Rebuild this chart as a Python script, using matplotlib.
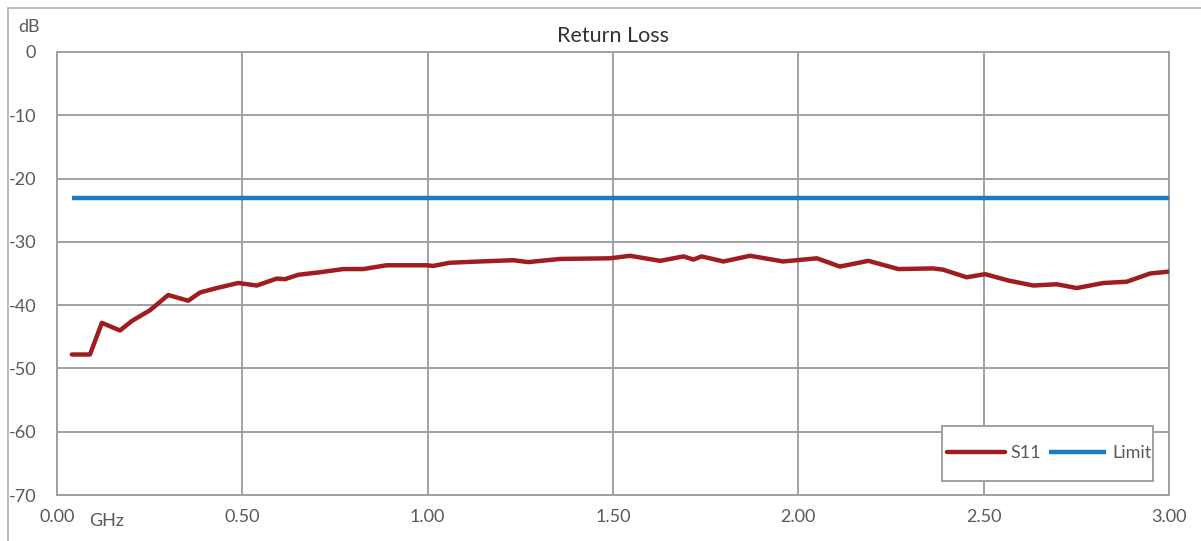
import numpy as np
import matplotlib
matplotlib.use('Agg')
import matplotlib.pyplot as plt
from matplotlib.patches import Rectangle

plt.rcParams['font.family'] = ['Lato', 'DejaVu Sans']

# S11 return loss (GHz, dB)
freq_ghz = [0.040, 0.089, 0.121, 0.170, 0.202, 0.251, 0.300, 0.354, 0.386, 0.431,
            0.489, 0.539, 0.593, 0.615, 0.651, 0.710, 0.772, 0.826, 0.889, 0.997,
            1.015, 1.060, 1.141, 1.231, 1.271, 1.357, 1.492, 1.546, 1.627, 1.690,
            1.717, 1.739, 1.798, 1.870, 1.959, 2.050, 2.112, 2.189, 2.270, 2.364,
            2.391, 2.454, 2.504, 2.566, 2.634, 2.697, 2.751, 2.823, 2.886, 2.949,
            3.000]
s11_db = [-47.8, -47.8, -42.8, -44.0, -42.5, -40.8, -38.4, -39.3, -38.0, -37.3,
          -36.5, -36.9, -35.8, -35.9, -35.2, -34.8, -34.3, -34.3, -33.7, -33.7,
          -33.8, -33.3, -33.1, -32.9, -33.2, -32.7, -32.6, -32.2, -33.0, -32.3,
          -32.8, -32.3, -33.1, -32.2, -33.1, -32.6, -33.9, -33.0, -34.3, -34.2,
          -34.4, -35.6, -35.1, -36.1, -36.9, -36.7, -37.3, -36.5, -36.3, -35.0,
          -34.7]

limit_freq = [0.040, 3.000]
limit_db = [-23.0, -23.0]

x_ticks = [0.0, 0.5, 1.0, 1.5, 2.0, 2.5, 3.0]
y_ticks = [0, -10, -20, -30, -40, -50, -60, -70]

grid_col = '#a0a0a4'
text_col = '#595959'
W, H = 1201, 541

fig = plt.figure(figsize=(12.01, 5.41), dpi=100)
ax = fig.add_axes([57/W, 1 - 495/H, 1112/W, 443/H])

# outer chart border (only top/left visible in the original)
fig.patches.append(Rectangle((8/W, -0.1), 1.2, 1 - 8/H + 0.1,
                             transform=fig.transFigure, fill=False,
                             edgecolor='#b0b0b0', linewidth=1.2))

ax.plot(freq_ghz, s11_db, color='#a01c21', lw=3.2, solid_joinstyle='round',
        solid_capstyle='round', label='S11', zorder=3)
ax.plot(limit_freq, limit_db, color='#1a7bc0', lw=3.2, solid_capstyle='butt',
        label='Limit', zorder=3)

ax.set_xlim(0, 3.0)
ax.set_ylim(-70, 0)
ax.set_xticks(x_ticks)
ax.set_xticklabels(['%.2f' % t for t in x_ticks])
ax.set_yticks(y_ticks)
ax.set_yticklabels([str(t) for t in y_ticks])
ax.grid(True, color=grid_col, lw=1.4)
ax.set_axisbelow(True)
for sp in ax.spines.values():
    sp.set_color(grid_col)
    sp.set_linewidth(1.4)
ax.tick_params(length=0, labelsize=13, colors=text_col, pad=10)
ax.tick_params(axis='y', pad=15)

ax.set_title('Return Loss', fontsize=15.5, color='#333333', pad=7)
fig.text(18/W, 1 - 27/H, 'dB', fontsize=13, color=text_col, va='center')
fig.text(89/W, 1 - 521/H, 'GHz', fontsize=13, color=text_col, va='center')

# legend box drawn by hand, entries centred in it
box = Rectangle((942/W, 1 - 481/H), 211/W, 55/H, transform=fig.transFigure,
                facecolor='white', edgecolor=grid_col, linewidth=1.4, zorder=4)
fig.patches.append(box)
leg = fig.legend(*ax.get_legend_handles_labels(), loc='center',
                 bbox_to_anchor=(1049/W, 1 - 453.5/H), ncol=2, frameon=False,
                 fontsize=13, handlelength=3.2, handletextpad=0.3,
                 columnspacing=0.45, borderpad=0, labelcolor=text_col)
leg.set_zorder(5)

fig.savefig('out.png', dpi=100)
